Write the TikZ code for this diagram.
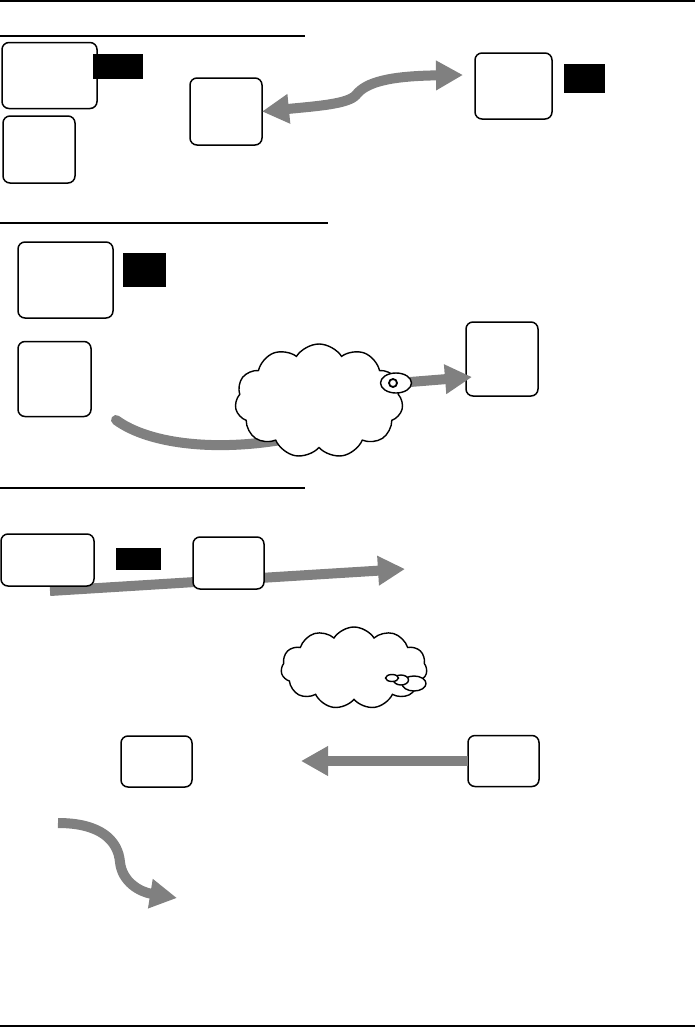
\documentclass[tikz,border=0pt]{standalone}
\usetikzlibrary{arrows.meta,shapes.symbols,shapes.geometric}
\definecolor{arrgray}{HTML}{808080}
\tikzset{
  rbox/.style={draw=black, line width=1.5pt, rounded corners=7pt, fill=white, inner sep=0pt, outer sep=0pt},
  blk/.style={fill=black, draw=none, inner sep=0pt, outer sep=0pt},
  rule/.style={line width=2pt, black},
  garrow/.style={draw=arrgray, line width=10pt, -{Triangle[length=27pt,width=28pt]}},
  gdouble/.style={draw=arrgray, line width=10pt, {Triangle[length=27pt,width=28pt]}-{Triangle[length=27pt,width=28pt]}},
  gline/.style={draw=arrgray, line width=10pt, line cap=round},
  cloudy/.style={cloud, draw=black, line width=1.4pt, fill=white, cloud puffs=11, cloud puff arc=115, cloud ignores aspect, inner sep=0pt},
  ring/.style={draw=black, line width=1.4pt, fill=white, ellipse, inner sep=0pt}
}
\begin{document}
\begin{tikzpicture}[x=1pt,y=-1pt]
\useasboundingbox (0,0) rectangle (695,1028);
% rules
\coordinate (t0) at (0,1); \coordinate (t1) at (695,1);
\draw[rule] (t0) -- (t1);
\coordinate (s1a) at (0,36); \coordinate (s1b) at (305,36);
\draw[rule] (s1a) -- (s1b);
\coordinate (s2a) at (0,223); \coordinate (s2b) at (328,223);
\draw[rule,line width=1.6pt] (s2a) -- (s2b);
\coordinate (s3a) at (0,488); \coordinate (s3b) at (305,488);
\draw[rule,line width=1.6pt] (s3a) -- (s3b);
\coordinate (b0) at (0,1026); \coordinate (b1) at (695,1026);
\draw[rule] (b0) -- (b1);

% ---------- section 1 ----------
\node[rbox, minimum width=95pt, minimum height=66pt] (A) at (49.5,75.5) {};
\node[blk, minimum width=50pt, minimum height=25pt] (K1) at (118,66.5) {};
\node[rbox, minimum width=72pt, minimum height=67pt] (B) at (39,149.5) {};
\node[rbox, minimum width=72pt, minimum height=67pt] (C) at (226,111.5) {};
\node[rbox, minimum width=77pt, minimum height=66pt] (D) at (513.5,86) {};
\node[blk, minimum width=41pt, minimum height=29pt] (K2) at (584.5,78.5) {};
\coordinate (tipD) at (463,75);
\draw[gdouble] (C.east) .. controls (318,106) and (348,104) .. (356,95)
  .. controls (366,82) and (390,76) .. (tipD);

% ---------- section 2 ----------
\coordinate (g2s) at (116,420);
\coordinate (g2e) at (292,438);
\draw[gline] (g2s) .. controls (150,445) and (220,452) .. (g2e);
\node[rbox, minimum width=95pt, minimum height=76pt] (E) at (65.5,280) {};
\node[blk, minimum width=43pt, minimum height=34pt] (K3) at (144.5,270) {};
\node[rbox, minimum width=73pt, minimum height=75pt] (F) at (54.5,379) {};
\node[rbox, minimum width=72pt, minimum height=74pt] (G) at (502,359) {};
\node[cloudy, minimum width=168pt, minimum height=114pt] (CL1) at (319,401) {};
\coordinate (tipG) at (472,377);
\draw[garrow] (410,382) coordinate (eg) -- (tipG);
\node[ring, minimum width=31pt, minimum height=20pt] (EL) at (396,383) {};
\node[circle, draw=black, line width=1.8pt, minimum size=8pt, inner sep=0pt] (ELc) at (393,383) {};

% ---------- section 3 ----------
\coordinate (g3s) at (50,591);
\coordinate (g3e) at (405,569);
\draw[garrow] (g3s) -- (g3e);
\node[rbox, minimum width=93pt, minimum height=52pt] (H) at (47.5,560) {};
\node[blk, minimum width=45pt, minimum height=22pt] (K4) at (138.5,559) {};
\node[rbox, minimum width=71pt, minimum height=52pt] (I) at (228.5,563) {};

\node[cloudy, minimum width=146pt, minimum height=82pt, cloud puffs=11] (CL2) at (354,668) {};
\node[ring, minimum width=24pt, minimum height=15pt] (c3) at (414,683.5) {};
\node[ring, minimum width=15pt, minimum height=10pt] (c2) at (401,680) {};
\node[ring, minimum width=13pt, minimum height=7pt] (c1) at (392,678) {};

\node[rbox, minimum width=71pt, minimum height=51pt] (J) at (156.5,761.5) {};
\node[rbox, minimum width=71pt, minimum height=51pt] (Kb) at (503.5,761) {};
\coordinate (tipJ) at (301,761);
\draw[garrow] (Kb.west) -- (tipJ);

\coordinate (cs) at (58,823);
\coordinate (ce) at (177,898);
\draw[garrow] (cs) .. controls (100,823) and (118,840) .. (120,862)
  .. controls (122,882) and (140,892) .. (ce);
\end{tikzpicture}
\end{document}
